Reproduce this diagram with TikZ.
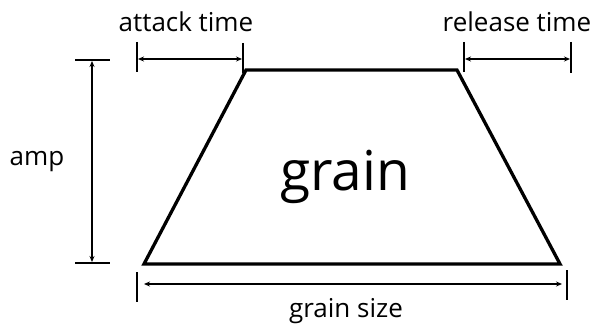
\documentclass[tikz,border=0pt]{standalone}
\usepackage{fontspec}
\setmainfont{Open Sans}
\usetikzlibrary{arrows.meta}
\begin{document}
\begin{tikzpicture}[x=1pt,y=-1pt,
  trap/.style={line width=3.3pt,line join=miter},
  tickline/.style={line width=1.8pt},
  dim/.style={line width=1.3pt,{Stealth[length=6pt,width=5pt]}-{Stealth[length=6pt,width=5pt]}},
  lab/.style={font=\fontsize{26}{30}\selectfont,inner sep=0pt,anchor=base}]
\useasboundingbox (0,0) rectangle (599,326);
% trapezoid
\coordinate (bl) at (144,264);
\coordinate (tl) at (246,70);
\coordinate (tr) at (457,70);
\coordinate (br) at (560,264);
\draw[trap] (bl) -- (tl) -- (tr) -- (br) -- cycle;
\node[inner sep=0pt,anchor=base,font=\fontsize{55}{64}\selectfont] (g) at (345,190) {grain};
% amp
\coordinate (a1l) at (75,60); \coordinate (a1r) at (110,60);
\coordinate (a2l) at (75,263); \coordinate (a2r) at (110,263);
\draw[tickline] (a1l) -- (a1r);
\draw[tickline] (a2l) -- (a2r);
\coordinate (av1) at (92,61); \coordinate (av2) at (92,262);
\draw[dim] (av1) -- (av2);
\node[lab] (amp) at (37,165) {amp};
% attack
\coordinate (at1a) at (137,42); \coordinate (at1b) at (137,72);
\coordinate (at2a) at (243,43); \coordinate (at2b) at (243,73);
\draw[tickline] (at1a) -- (at1b);
\draw[tickline] (at2a) -- (at2b);
\coordinate (aa1) at (138,59); \coordinate (aa2) at (242,59);
\draw[dim] (aa1) -- (aa2);
\node[lab] (att) at (186,32) {attack time};
% release
\coordinate (r1a) at (464,42); \coordinate (r1b) at (464,72);
\coordinate (r2a) at (571,42); \coordinate (r2b) at (571,73);
\draw[tickline] (r1a) -- (r1b);
\draw[tickline] (r2a) -- (r2b);
\coordinate (ra1) at (465,59); \coordinate (ra2) at (570,59);
\draw[dim] (ra1) -- (ra2);
\node[lab] (rel) at (517,32) {release time};
% grain size
\coordinate (g1a) at (137,272); \coordinate (g1b) at (137,302);
\coordinate (g2a) at (567,270); \coordinate (g2b) at (567,300);
\draw[tickline] (g1a) -- (g1b);
\draw[tickline] (g2a) -- (g2b);
\coordinate (ga1) at (144,284); \coordinate (ga2) at (562,284);
\draw[dim] (ga1) -- (ga2);
\node[lab] (gs) at (346,317) {grain size};
\end{tikzpicture}
\end{document}
